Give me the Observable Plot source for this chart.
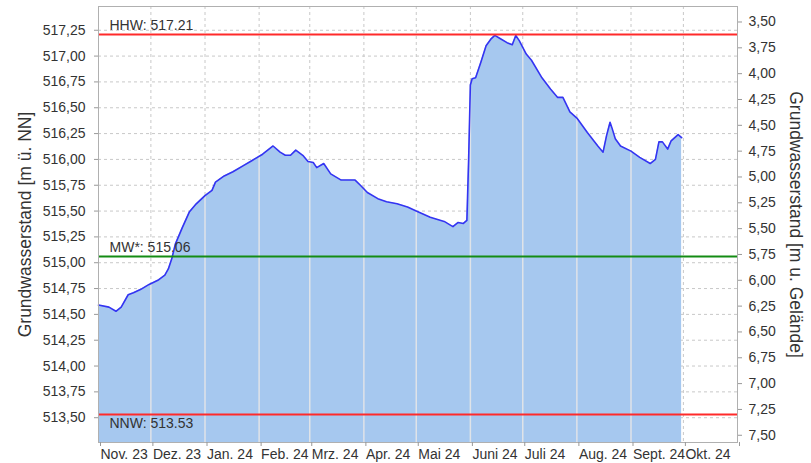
<!DOCTYPE html>
<html>
<head>
<meta charset="utf-8">
<script src="https://cdn.jsdelivr.net/npm/d3@7"></script>
<script src="https://cdn.jsdelivr.net/npm/@observablehq/plot@0.6"></script>
<style>
  html, body { margin: 0; padding: 0; background: #fff; }
  #chart svg { display: block; }
</style>
</head>
<body>
<div id="chart"></div>
<script>
// ---- data ----
const dates = [
  "2023-11-01","2023-11-07","2023-11-11","2023-11-14","2023-11-18","2023-11-21","2023-11-25","2023-11-30",
  "2023-12-05","2023-12-09","2023-12-11","2023-12-13","2023-12-15","2023-12-19","2023-12-23","2023-12-27",
  "2024-01-01","2024-01-05","2024-01-07","2024-01-12","2024-01-17","2024-01-23","2024-01-28",
  "2024-02-03","2024-02-09","2024-02-13","2024-02-16","2024-02-19","2024-02-22","2024-02-26","2024-02-29",
  "2024-03-03","2024-03-05","2024-03-09","2024-03-13","2024-03-19","2024-03-23","2024-03-27","2024-03-30",
  "2024-04-03","2024-04-09","2024-04-14","2024-04-20","2024-04-26",
  "2024-05-01","2024-05-09","2024-05-17","2024-05-22","2024-05-25","2024-05-28","2024-05-30","2024-05-31",
  "2024-06-01","2024-06-02","2024-06-04","2024-06-07","2024-06-10","2024-06-13","2024-06-15","2024-06-18",
  "2024-06-22","2024-06-25","2024-06-27","2024-06-29",
  "2024-07-03","2024-07-06","2024-07-12","2024-07-17","2024-07-21","2024-07-24","2024-07-28",
  "2024-08-01","2024-08-07","2024-08-13","2024-08-16","2024-08-18","2024-08-20","2024-08-21","2024-08-23","2024-08-26",
  "2024-09-01","2024-09-06","2024-09-12","2024-09-15","2024-09-17","2024-09-19","2024-09-22","2024-09-24","2024-09-28","2024-09-30"
];
const levels = [
  514.59,514.57,514.53,514.57,514.69,514.71,514.74,514.79,
  514.83,514.88,514.94,515.04,515.18,515.34,515.49,515.57,
  515.65,515.70,515.78,515.84,515.88,515.94,515.99,
  516.05,516.13,516.07,516.04,516.04,516.09,516.04,515.98,
  515.97,515.92,515.96,515.86,515.80,515.80,515.80,515.75,
  515.68,515.62,515.59,515.57,515.54,
  515.50,515.44,515.40,515.35,515.39,515.38,515.41,516.00,
  516.72,516.78,516.79,516.94,517.10,517.17,517.20,517.17,
  517.13,517.11,517.20,517.15,
  517.02,516.96,516.79,516.68,516.60,516.60,516.46,
  516.40,516.26,516.13,516.07,516.23,516.36,516.31,516.20,516.13,
  516.08,516.02,515.96,516.00,516.17,516.17,516.10,516.18,516.24,516.21
];
const monthTicks = ["2023-11-01","2023-12-01","2024-01-01","2024-02-01","2024-03-01","2024-04-01","2024-05-01",
  "2024-06-01","2024-07-01","2024-08-01","2024-09-01","2024-10-01","2024-11-01"];
const monthLabels = ["Nov. 23","Dez. 23","Jan. 24","Feb. 24","Mrz. 24","Apr. 24","Mai 24",
  "Juni 24","Juli 24","Aug. 24","Sept. 24","Okt. 24",""];
const leftTicks = [513.50,513.75,514.00,514.25,514.50,514.75,515.00,515.25,515.50,515.75,516.00,516.25,516.50,516.75,517.00,517.25];
const rightTicks = [3.50,3.75,4.00,4.25,4.50,4.75,5.00,5.25,5.50,5.75,6.00,6.25,6.50,6.75,7.00,7.25,7.50];
const groundLevel = 520.83;   // m ü. NN, links depth axis to level axis
const refNames = ["HHW: 517.21","MW*: 515.06","NNW: 513.53"];
const refValues = [517.21, 515.06, 513.53];
const refColors = ["#ff2a2a","#148c14","#ff2a2a"];
const refLabelSide = [-1, -1, 1];
const yDomain = [513.26, 517.48];

// ---- build ----
const series = dates.map((d, i) => ({date: new Date(d), level: levels[i]}));
const tickDates = monthTicks.map(d => new Date(d));
const refs = refValues.map((v, i) => ({value: v, label: refNames[i], color: refColors[i], side: refLabelSide[i]}));
const fmt = v => v.toFixed(2).replace(".", ",");

// level of the series at each month boundary (for the light grid lines over the fill)
const bis = d3.bisector(d => d.date).left;
function levelAt(t) {
  const i = bis(series, t);
  if (i <= 0 || i >= series.length) return null;
  const a = series[i - 1], b = series[i];
  const f = (t - a.date) / (b.date - a.date);
  return a.level + f * (b.level - a.level);
}
const innerMonths = tickDates.map(t => ({date: t, level: levelAt(t)})).filter(d => d.level != null);

const font = "'Liberation Sans', Arial, Helvetica, sans-serif";
const chart = Plot.plot({
  width: 811,
  height: 463,
  marginLeft: 98,
  marginRight: 74,
  marginTop: 6,
  marginBottom: 21,
  style: {fontFamily: font, fontSize: "14px", color: "#333", background: "#fff", overflow: "visible"},
  x: {type: "utc", domain: [tickDates[0], tickDates[tickDates.length - 1]]},
  y: {domain: yDomain},
  marks: [
    Plot.gridY(leftTicks, {stroke: "#c8c8c8", strokeOpacity: 1, strokeDasharray: "3,3"}),
    Plot.gridX(tickDates, {stroke: "#c8c8c8", strokeOpacity: 1, strokeDasharray: "3,3"}),
    Plot.areaY(series, {x: "date", y1: yDomain[0], y2: "level", fill: "#a6c8ef"}),
    Plot.ruleX(innerMonths, {x: "date", y1: yDomain[0], y2: "level", stroke: "#dfe3e8", strokeWidth: 1.5}),
    Plot.lineY(series, {x: "date", y: "level", stroke: "#3434f2", strokeWidth: 1.6}),
    Plot.ruleY(refs, {y: "value", stroke: "color", strokeWidth: 2}),
    Plot.text(refs.filter(r => r.side < 0), {x: tickDates[0], y: "value", text: "label", textAnchor: "start", dx: 11, dy: -9, fontSize: 14, fill: "#333"}),
    Plot.text(refs.filter(r => r.side > 0), {x: tickDates[0], y: "value", text: "label", textAnchor: "start", dx: 11, dy: 9, fontSize: 14, fill: "#333"}),
    Plot.frame({stroke: "#b0b0b0"}),
    Plot.axisY(leftTicks, {anchor: "left", tickFormat: fmt, tickSize: 4, tickPadding: 9, label: null, stroke: "#999", fontSize: 14}),
    Plot.axisY(rightTicks.map(d => groundLevel - d), {anchor: "right", tickFormat: v => fmt(groundLevel - v), tickSize: 4, tickPadding: 7, label: null, stroke: "#999", fontSize: 14}),
    Plot.axisX(tickDates, {anchor: "bottom", tickFormat: (d, i) => monthLabels[i], textAnchor: "start", dx: 2, tickSize: 4, tickPadding: 3, label: null, stroke: "#999", fontSize: 14}),
    Plot.text(["Grundwasserstand [m ü. NN]"], {frameAnchor: "left", textAnchor: "middle", dx: -73, rotate: -90, fontSize: 17.5, fill: "#333"}),
    Plot.text(["Grundwasserstand [m u. Gelände]"], {frameAnchor: "right", textAnchor: "middle", dx: 58, rotate: 90, fontSize: 17.5, fill: "#333"})
  ]
});
document.getElementById("chart").appendChild(chart);
</script>
</body>
</html>
